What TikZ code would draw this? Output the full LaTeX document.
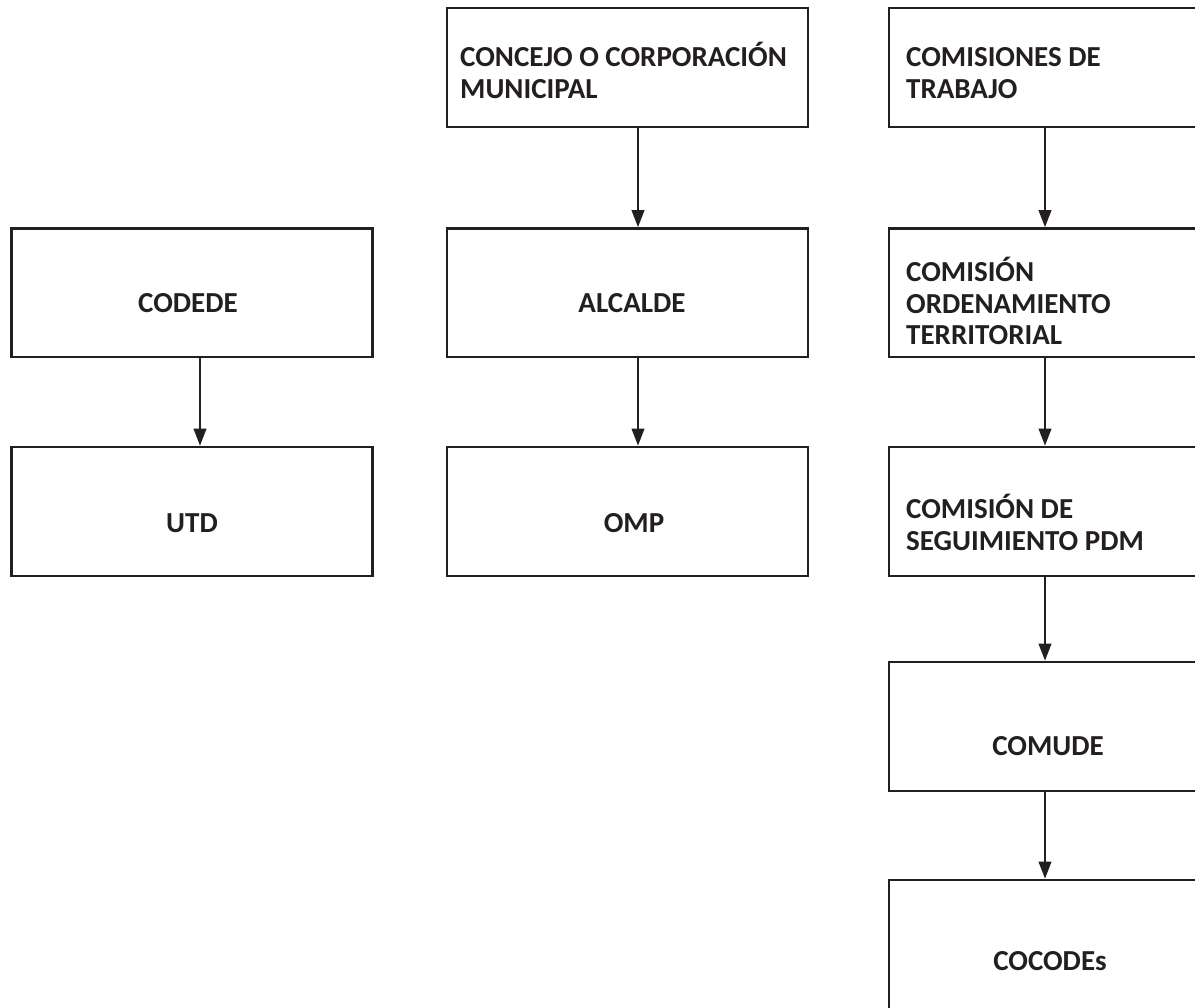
\documentclass[tikz,border=0pt]{standalone}
\usepackage{fontspec}
\setmainfont{Carlito}
\usetikzlibrary{arrows.meta}
\definecolor{ink}{HTML}{231F20}
\tikzset{
  box/.style={draw=ink, line width=2.6pt, rectangle, inner sep=0pt, minimum width=361pt},
  txt/.style={text=ink, font=\bfseries\fontsize{29}{31.5}\selectfont, inner sep=0pt, align=left},
  arr/.style={draw=ink, line width=2.2pt, -{Triangle[length=17pt,width=12.5pt]}}
}
\begin{document}
\begin{tikzpicture}[x=1pt,y=-1pt]
\useasboundingbox (0,0) rectangle (1195,1008);
\clip (0,0) rectangle (1195,1008);
% column 1
\node[box, minimum height=128.5pt] (codede) at (191.75,292.75) {};
\node[box, minimum height=129pt] (utd) at (191.75,511.5) {};
% column 2
\node[box, minimum height=119pt] (concejo) at (627.5,67.5) {};
\node[box, minimum height=128.5pt] (alcalde) at (627.5,292.75) {};
\node[box, minimum height=129pt] (omp) at (627.5,511.5) {};
% column 3
\node[box, minimum height=119pt] (comisiones) at (1069.5,67.5) {};
\node[box, minimum height=128.5pt] (ordenamiento) at (1069.5,292.75) {};
\node[box, minimum height=129pt] (seguimiento) at (1069.5,511.5) {};
\node[box, minimum height=129pt] (comude) at (1069.5,726.5) {};
\node[box, minimum height=129pt] (cocodes) at (1069.5,944.5) {};
% texts (multi-line: base anchor = baseline of last line)
\node[txt, anchor=base] (tcodede) at (188,313) {CODEDE};
\node[txt, anchor=base] (tutd) at (192,532.5) {UTD};
\node[txt, anchor=base west] (tconcejo) at (460,98.5) {CONCEJO O CORPORACIÓN\\MUNICIPAL};
\node[txt, anchor=base] (talcalde) at (632,313) {ALCALDE};
\node[txt, anchor=base] (tomp) at (634,532.5) {OMP};
\node[txt, anchor=base west] (tcomisiones) at (906,98.5) {COMISIONES DE\\TRABAJO};
\node[txt, anchor=base west] (tordenamiento) at (906,345) {COMISIÓN\\ORDENAMIENTO\\TERRITORIAL};
\node[txt, anchor=base west] (tseguimiento) at (906,550) {COMISIÓN DE\\SEGUIMIENTO PDM};
\node[txt, anchor=base] (tcomude) at (1048,755) {COMUDE};
\node[txt, anchor=base] (tcocodes) at (1050,970) {COCODEs};
% arrow columns
\coordinate (a1) at (200,0);
\coordinate (a2) at (638,0);
\coordinate (a3) at (1045,0);
\draw[arr] (codede.south -| a1) -- (utd.north -| a1);
\draw[arr] (concejo.south -| a2) -- (alcalde.north -| a2);
\draw[arr] (alcalde.south -| a2) -- (omp.north -| a2);
\draw[arr] (comisiones.south -| a3) -- (ordenamiento.north -| a3);
\draw[arr] (ordenamiento.south -| a3) -- (seguimiento.north -| a3);
\draw[arr] (seguimiento.south -| a3) -- (comude.north -| a3);
\draw[arr] (comude.south -| a3) -- (cocodes.north -| a3);
\end{tikzpicture}
\end{document}
